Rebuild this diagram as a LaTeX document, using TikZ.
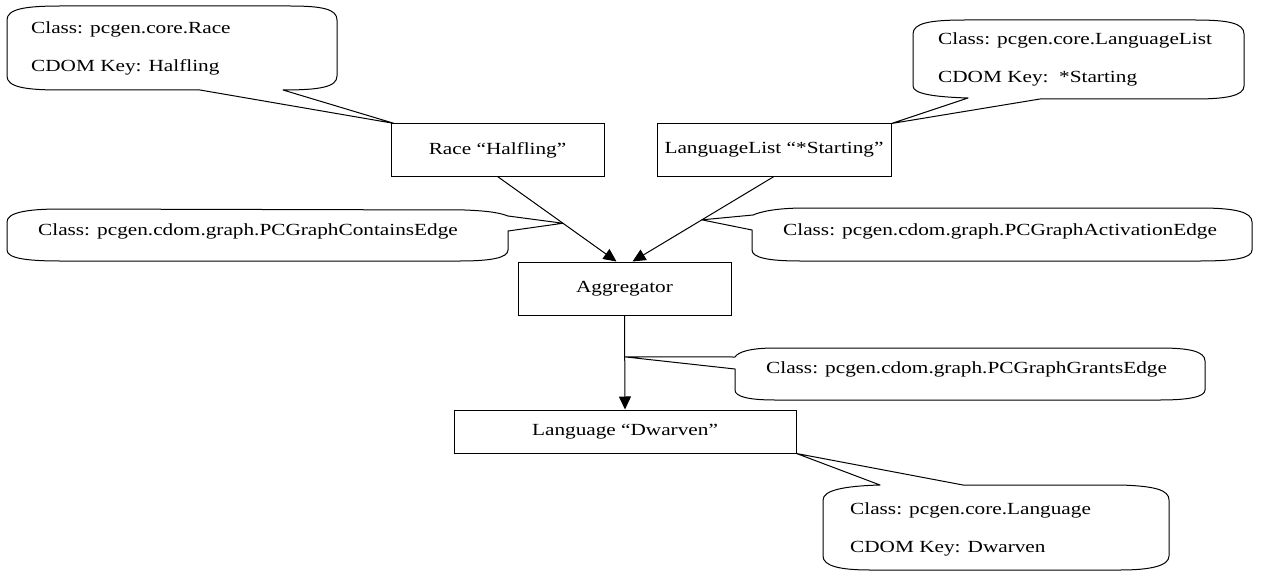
\documentclass[tikz,border=0pt]{standalone}
\usepackage{fontspec}
\setmainfont[FakeStretch=1.25]{Liberation Serif}
\usetikzlibrary{arrows.meta}

\tikzset{
  box/.style={draw, line width=1pt, minimum height=52pt, inner sep=0pt},
  note/.style={align=left, anchor=west, inner sep=0pt},
  link/.style={line width=1pt, -{Triangle[length=13pt,width=12pt]}},
  bubble/.style={line width=1pt, line join=round}
}

\begin{document}
\begin{tikzpicture}[x=1pt,y=-1pt,font=\fontsize{17}{38}\selectfont]
\useasboundingbox (0,0) rectangle (1268,583);
% Objects
\node[box,minimum width=213pt] (race) at (497.5,150) {Race “Halfling”};
\node[box,minimum width=234pt] (list) at (774,150) {LanguageList “*Starting”};
\node[box,minimum width=213pt,minimum height=53pt] (agg) at (624.5,288.5) {Aggregator};
\node[box,minimum width=342pt,minimum height=43pt] (lang) at (625,431.5) {Language “Dwarven”};

% Edges
\draw[link] (race.south) -- coordinate[pos=0.55] (containspt) ([xshift=-8pt]agg.north);
\draw[link] (list.south) -- coordinate[pos=0.51] (activpt) ([xshift=8pt]agg.north);
\draw[link] (agg.south) -- coordinate[pos=0.44] (grantspt) (lang.north);

% Notes
\node[note] (racenote) at (31,48) {Class: pcgen.core.Race\\CDOM Key: Halfling};
\draw[bubble] (7,20) .. controls (7,9) and (25,6) .. (60,6) -- (290,6) .. controls (322,6) and (337,9) .. (337,20)
  -- (337,76) .. controls (337,87) and (320,90) .. (283,90) -- ([xshift=4pt]race.north west) -- (200,90)
  -- (60,90) .. controls (25,90) and (7,87) .. (7,76) -- cycle;

\node[note] (listnote) at (938,59.5) {Class: pcgen.core.LanguageList\\CDOM Key:\ \ *Starting};
\draw[bubble] (913,34) .. controls (913,23) and (930,20) .. (965,20) -- (1195,20) .. controls (1228,20) and (1244,23) .. (1244,34)
  -- (1244,86) .. controls (1244,96) and (1225,99) .. (1195,99) -- (1040,99) -- (list.north east) -- (968,98)
  .. controls (935,97) and (913,94) .. (913,86) -- cycle;

\node[note] (containsnote) at (38,231) {Class: pcgen.cdom.graph.PCGraphContainsEdge};
\draw[bubble] (7,222) .. controls (7,213) and (25,209) .. (60,209) -- (465,210) .. controls (490,211) and (500,213) .. (508,216)
  -- (containspt) -- (508,231) -- (508,250) .. controls (508,258) and (490,261) .. (460,261)
  -- (60,261) .. controls (25,261) and (7,258) .. (7,250) -- cycle;

\node[note] (activnote) at (783,231) {Class: pcgen.cdom.graph.PCGraphActivationEdge};
\draw[bubble] (1252,222) .. controls (1252,212) and (1235,208) .. (1200,208) -- (805,208) .. controls (775,208) and (760,212) .. (753,215)
  -- (activpt) -- (752,230) -- (752,250) .. controls (752,258) and (770,261) .. (800,261)
  -- (1200,261) .. controls (1235,261) and (1252,258) .. (1252,250) -- cycle;

\node[note] (grantsnote) at (766,369) {Class: pcgen.cdom.graph.PCGraphGrantsEdge};
\draw[bubble] (1205,361) .. controls (1205,351) and (1188,348) .. (1160,348) -- (775,348) .. controls (750,348) and (738,352) .. (735,357)
  -- (grantspt) -- (735,369) -- (735,390) .. controls (735,397) and (750,400) .. (775,400)
  -- (1160,400) .. controls (1188,400) and (1205,397) .. (1205,390) -- cycle;

\node[note] (langnote) at (850,529) {Class: pcgen.core.Language\\CDOM Key: Dwarven};
\draw[bubble] (823,500) .. controls (823,490) and (845,486) .. (880,485) -- (lang.south east) -- (963,485)
  -- (1120,485) .. controls (1155,486) and (1169,490) .. (1169,500) -- (1169,556) .. controls (1169,566) and (1150,570) .. (1120,570)
  -- (870,570) .. controls (840,570) and (823,566) .. (823,556) -- cycle;
\end{tikzpicture}
\end{document}
